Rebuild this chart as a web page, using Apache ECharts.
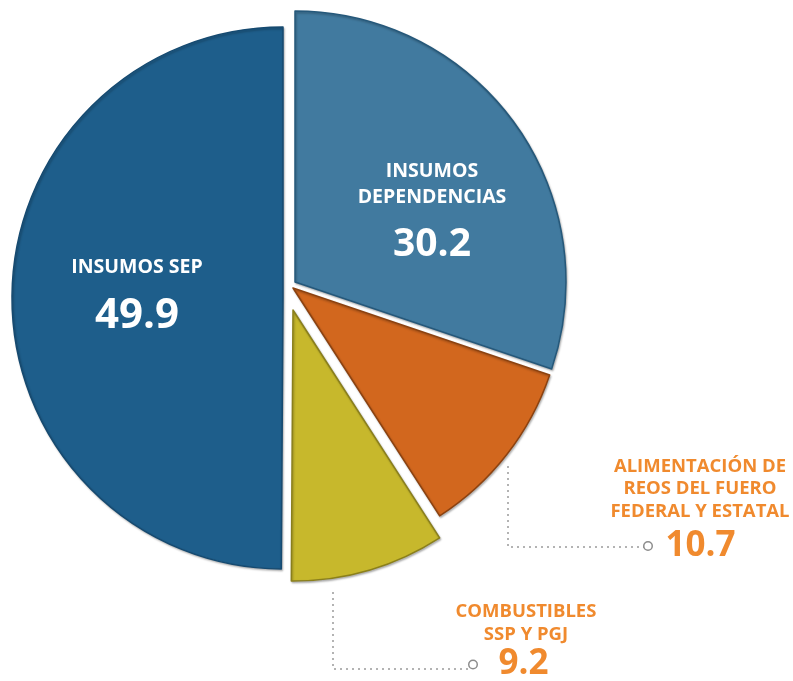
<!DOCTYPE html>
<html>
<head>
<meta charset="utf-8">
<script src="https://cdn.jsdelivr.net/npm/echarts@6/dist/echarts.min.js"></script>
<style>
html,body{margin:0;padding:0;background:#fff;}
#chart{width:793px;height:681px;}
</style>
</head>
<body>
<div id="chart"></div>
<script>
// ---- data ----
const categories = ['INSUMOS DEPENDENCIAS', 'ALIMENTACIÓN DE REOS DEL FUERO FEDERAL Y ESTATAL', 'COMBUSTIBLES SSP Y PGJ', 'INSUMOS SEP'];
const labelLines = [['INSUMOS', 'DEPENDENCIAS'], ['ALIMENTACIÓN DE', 'REOS DEL FUERO', 'FEDERAL Y ESTATAL'], ['COMBUSTIBLES', 'SSP Y PGJ'], ['INSUMOS SEP']];
const values = [30.2, 10.7, 9.2, 49.9];
const valueLabels = ['30.2', '10.7', '9.2', '49.9'];

// ---- styles / layout ----
const fills = ['#417a9f', '#d2671e', '#c7b82c', '#1e5e8b'];
const borders = ['#25587a', '#8c4210', '#8a7f1c', '#164a70'];
const centers = [[295, 282], [293, 288], [293, 310], [283, 298]];
const outside = [false, true, true, false];
const ORANGE = '#f08a2e';
const FONT = '"Open Sans"';

// label placement (top-left / centre of text block) and leader lines
const labelPlace = [
  { x: 432, y: 159, align: 'center' },
  { x: 608, y: 455, align: 'left' },
  { x: 444, y: 600, align: 'left' },
  { x: 137, y: 255, align: 'center' }
];
const leaders = [null, [[508, 466], [508, 547], [644, 547]], [[333, 592], [333, 669], [469, 669]], null];
const boxW = [0, 184, 164, 0];
const padW = [0, 36.5, 25.5, 0];
const gapW = [0, 14, 22, 0];
const titleLH = [25.5, 22.5, 23, 24];
const numLH = [70, 47, 37, 74];
const numSize = [39, 35, 35, 42];
const titleSize = [19.5, 18.5, 18.5, 19.5];

function makeFormatter(i) {
  return function () {
    const lines = labelLines[i].map(function (t) { return '{t|' + t + '}'; });
    if (outside[i]) {
      lines.push('{pad| }{dot| }{gap| }{n|' + valueLabels[i] + '}');
    } else {
      lines.push('{n|' + valueLabels[i] + '}');
    }
    return lines.join('\n');
  };
}

function makeRich(i) {
  if (outside[i]) {
    return {
      t: { fontFamily: FONT, fontWeight: 'bold', fontSize: titleSize[i], color: ORANGE, width: boxW[i], align: 'center', lineHeight: titleLH[i], verticalAlign: 'middle' },
      pad: { width: padW[i], fontSize: 10, lineHeight: numLH[i], verticalAlign: 'middle' },
      dot: { width: 7, height: 7, borderRadius: 5, borderColor: '#8c8c8c', borderWidth: 1.5, backgroundColor: '#fff', fontSize: 6, lineHeight: numLH[i], verticalAlign: 'middle' },
      gap: { width: gapW[i], fontSize: 10, lineHeight: numLH[i], verticalAlign: 'middle' },
      n: { fontFamily: FONT, fontWeight: 'bold', fontSize: numSize[i], color: ORANGE, lineHeight: numLH[i], verticalAlign: 'middle' }
    };
  }
  return {
    t: { fontFamily: FONT, fontWeight: 'bold', fontSize: titleSize[i], color: '#ffffff', lineHeight: titleLH[i], align: 'center', verticalAlign: 'middle' },
    n: { fontFamily: FONT, fontWeight: 'bold', fontSize: numSize[i], color: '#ffffff', lineHeight: numLH[i], align: 'center', verticalAlign: 'middle' }
  };
}

const series = values.map(function (_, i) {
  return {
    type: 'pie',
    center: centers[i],
    radius: 271,
    startAngle: 90,
    clockwise: true,
    avoidLabelOverlap: false,
    silent: true,
    animation: false,
    emphasis: { disabled: true },
    label: {
      show: true,
      position: outside[i] ? 'outside' : 'inside',
      formatter: makeFormatter(i),
      rich: makeRich(i)
    },
    labelLine: {
      show: outside[i],
      lineStyle: { color: '#9a9a9a', width: 1.5, type: [2, 4] }
    },
    labelLayout: function () {
      const p = labelPlace[i];
      const o = { x: p.x, y: p.y, align: p.align, verticalAlign: 'top' };
      if (leaders[i]) o.labelLinePoints = leaders[i];
      return o;
    },
    data: values.map(function (v, j) {
      const own = j === i;
      return {
        value: v,
        name: categories[j],
        itemStyle: own ? {
          color: fills[j], borderColor: borders[j], borderWidth: 1.5,
          shadowColor: 'rgba(0,0,0,0.25)', shadowBlur: 2, shadowOffsetX: 1, shadowOffsetY: 1.5
        } : { color: 'rgba(0,0,0,0)', borderWidth: 0 },
        label: { show: own },
        labelLine: { show: own && outside[i] }
      };
    })
  };
});

const chart = echarts.init(document.getElementById('chart'), null, { renderer: 'canvas' });
chart.setOption({
  backgroundColor: '#ffffff',
  animation: false,
  series: series
});
</script>
</body>
</html>
